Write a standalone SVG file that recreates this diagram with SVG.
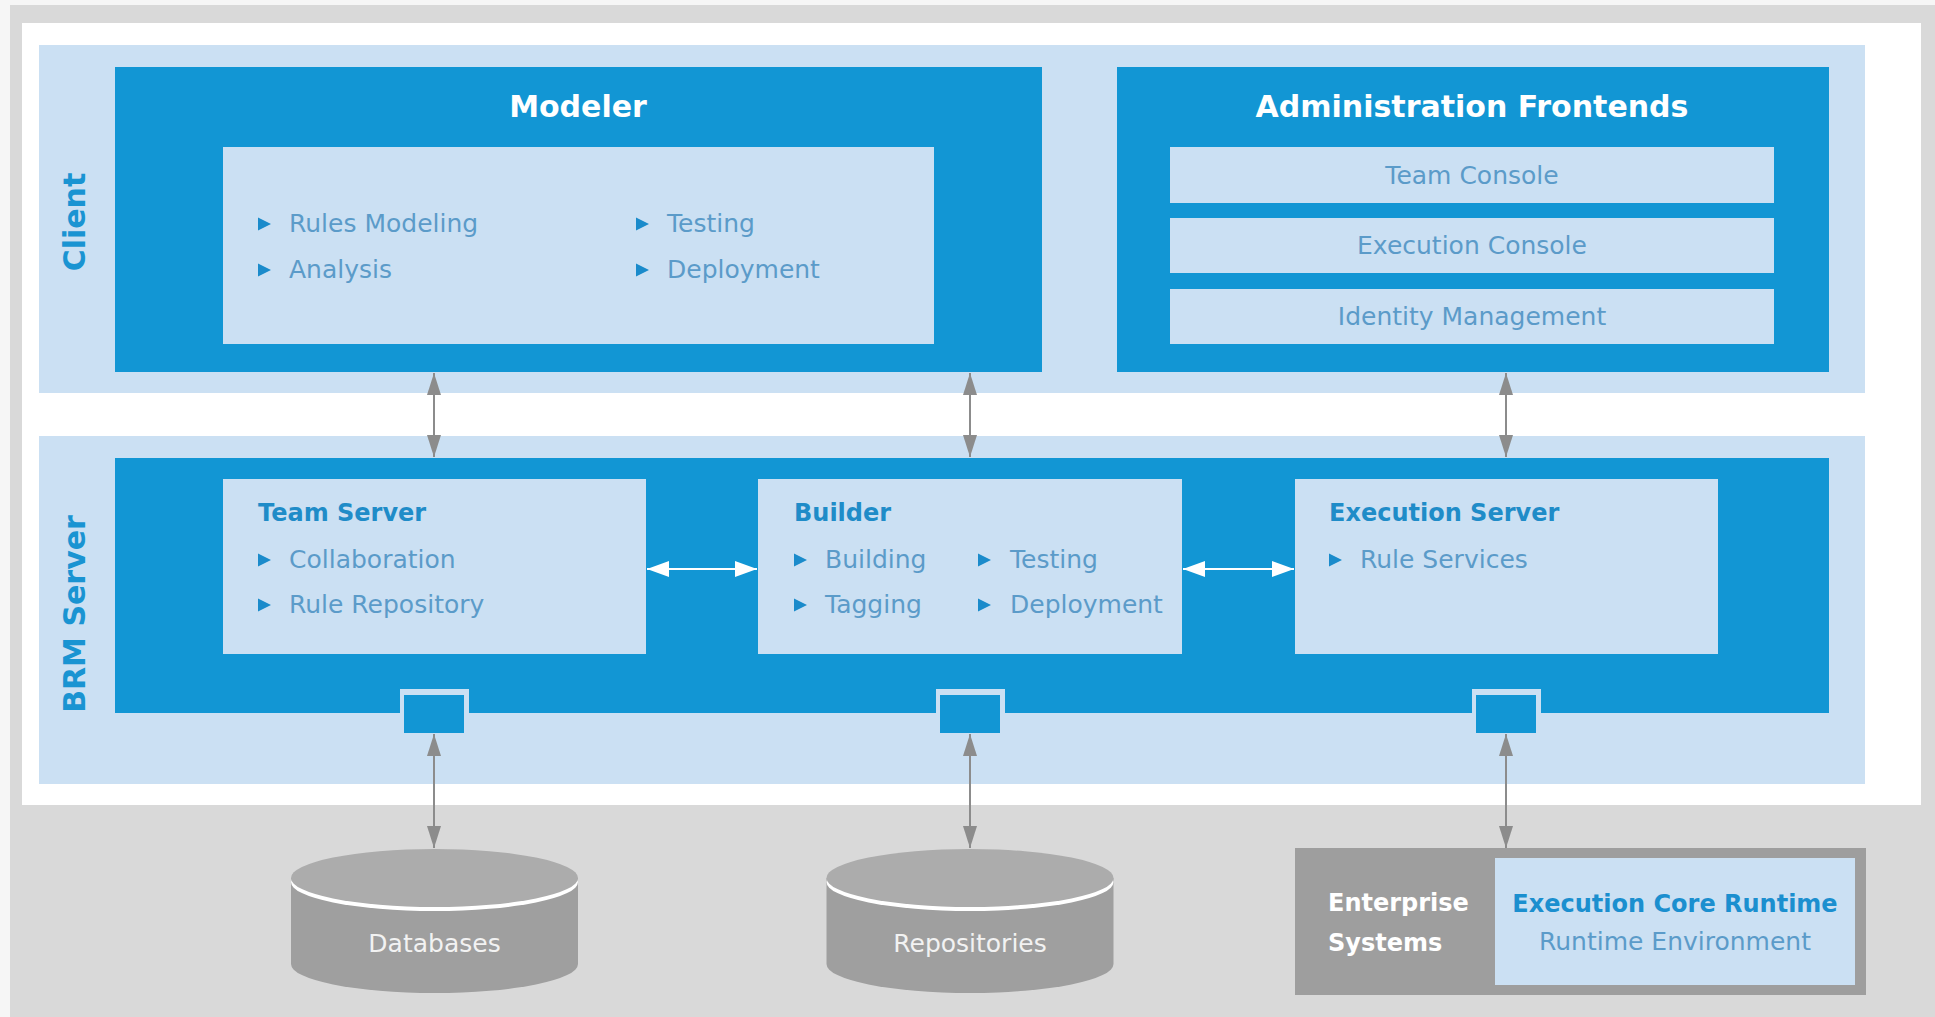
<svg xmlns="http://www.w3.org/2000/svg" width="1935" height="1017" viewBox="0 0 1935 1017">
<defs>
<style>
.dark{fill:#1296d4}
.light{fill:#cbe0f3}
.title{font-family:"DejaVu Sans",sans-serif;font-weight:bold;font-size:30px;fill:#ffffff}
.vlabel{font-family:"DejaVu Sans",sans-serif;font-weight:bold;font-size:30px;fill:#1a94d2}
.head{font-family:"DejaVu Sans",sans-serif;font-weight:bold;font-size:24px;fill:#1f8cc8}
.item{font-family:"DejaVu Sans",sans-serif;font-size:25px;fill:#5b9bc9}
.bul{fill:#1a8bcb}
.wtxt{font-family:"DejaVu Sans",sans-serif;font-size:25px;fill:#f2f2f2}
.wbold{font-family:"DejaVu Sans",sans-serif;font-weight:bold;font-size:24px;fill:#ffffff}
.garrow{stroke:#8c8c8c;stroke-width:2;fill:none;marker-start:url(#ga);marker-end:url(#ga)}
.warrow{stroke:#ffffff;stroke-width:2;fill:none;marker-start:url(#wa);marker-end:url(#wa)}
.cylbody{fill:#9f9f9f}
.cyltop{fill:#acacac}
</style>
<marker id="ga" markerUnits="userSpaceOnUse" markerWidth="22" markerHeight="14" refX="22" refY="7" orient="auto-start-reverse">
<path d="M0,0 L22,7 L0,14 Z" fill="#8c8c8c"/>
</marker>
<marker id="wa" markerUnits="userSpaceOnUse" markerWidth="22" markerHeight="16" refX="22" refY="8" orient="auto-start-reverse">
<path d="M0,0 L22,8 L0,16 Z" fill="#ffffff"/>
</marker>
</defs>

<rect x="0" y="0" width="1935" height="1017" fill="#f6f6f6"/>
<rect x="10" y="5" width="1925" height="1012" fill="#d9d9d9"/>
<rect x="22" y="23" width="1899" height="782" fill="#ffffff"/>

<g id="client-layer">
<rect class="light" x="39" y="45" width="1826" height="348"/>
<text class="vlabel" text-anchor="middle" transform="translate(85,222) rotate(-90)">Client</text>
</g>

<g id="modeler">
<rect class="dark" x="115" y="67" width="927" height="305"/>
<text class="title" x="578" y="117" text-anchor="middle">Modeler</text>
<rect class="light" x="223" y="147" width="711" height="197"/>
<path class="bul" d="M258,217.5 L271,224 L258,230.5 Z"/>
<text class="item" x="289" y="232">Rules Modeling</text>
<path class="bul" d="M258,263.5 L271,270 L258,276.5 Z"/>
<text class="item" x="289" y="278">Analysis</text>
<path class="bul" d="M636,217.5 L649,224 L636,230.5 Z"/>
<text class="item" x="667" y="232">Testing</text>
<path class="bul" d="M636,263.5 L649,270 L636,276.5 Z"/>
<text class="item" x="667" y="278">Deployment</text>
</g>

<g id="admin-frontends">
<rect class="dark" x="1117" y="67" width="712" height="305"/>
<text class="title" x="1472" y="117" text-anchor="middle">Administration Frontends</text>
<rect class="light" x="1170" y="147" width="604" height="56"/>
<text class="item" x="1472" y="184" text-anchor="middle">Team Console</text>
<rect class="light" x="1170" y="218" width="604" height="55"/>
<text class="item" x="1472" y="254" text-anchor="middle">Execution Console</text>
<rect class="light" x="1170" y="289" width="604" height="55"/>
<text class="item" x="1472" y="325" text-anchor="middle">Identity Management</text>
</g>

<g id="brm-layer">
<rect class="light" x="39" y="436" width="1826" height="348"/>
<text class="vlabel" text-anchor="middle" transform="translate(85,614) rotate(-90)">BRM Server</text>
<rect class="dark" x="115" y="458" width="1714" height="255"/>
</g>

<g id="team-server">
<rect class="light" x="223" y="479" width="423" height="175"/>
<text class="head" x="258" y="521">Team Server</text>
<path class="bul" d="M258,553.5 L271,560 L258,566.5 Z"/>
<text class="item" x="289" y="568">Collaboration</text>
<path class="bul" d="M258,598.5 L271,605 L258,611.5 Z"/>
<text class="item" x="289" y="613">Rule Repository</text>
</g>

<g id="builder">
<rect class="light" x="758" y="479" width="424" height="175"/>
<text class="head" x="794" y="521">Builder</text>
<path class="bul" d="M794,553.5 L807,560 L794,566.5 Z"/>
<text class="item" x="825" y="568">Building</text>
<path class="bul" d="M794,598.5 L807,605 L794,611.5 Z"/>
<text class="item" x="825" y="613">Tagging</text>
<path class="bul" d="M978,553.5 L991,560 L978,566.5 Z"/>
<text class="item" x="1010" y="568">Testing</text>
<path class="bul" d="M978,598.5 L991,605 L978,611.5 Z"/>
<text class="item" x="1010" y="613">Deployment</text>
</g>

<g id="execution-server">
<rect class="light" x="1295" y="479" width="423" height="175"/>
<text class="head" x="1329" y="521">Execution Server</text>
<path class="bul" d="M1329,553.5 L1342,560 L1329,566.5 Z"/>
<text class="item" x="1360" y="568">Rule Services</text>
</g>

<g id="port-team">
<rect class="light" x="400" y="689" width="69" height="45"/>
<rect class="dark" x="404" y="695" width="60" height="38"/>
</g>
<g id="port-builder">
<rect class="light" x="936" y="689" width="69" height="45"/>
<rect class="dark" x="940" y="695" width="60" height="38"/>
</g>
<g id="port-execution">
<rect class="light" x="1472" y="689" width="69" height="45"/>
<rect class="dark" x="1476" y="695" width="60" height="38"/>
</g>

<g id="databases">
<path class="cylbody" d="M291,878 L291,964 A143.5,29 0 0 0 578,964 L578,878 Z"/>
<ellipse cx="434.5" cy="882" rx="143.5" ry="29" fill="#ffffff"/>
<ellipse class="cyltop" cx="434.5" cy="878" rx="143.5" ry="29"/>
<text class="wtxt" x="434.5" y="952" text-anchor="middle">Databases</text>
</g>

<g id="repositories">
<path class="cylbody" d="M826.5,878 L826.5,964 A143.5,29 0 0 0 1113.5,964 L1113.5,878 Z"/>
<ellipse cx="970" cy="882" rx="143.5" ry="29" fill="#ffffff"/>
<ellipse class="cyltop" cx="970" cy="878" rx="143.5" ry="29"/>
<text class="wtxt" x="970" y="952" text-anchor="middle">Repositories</text>
</g>

<g id="enterprise-systems">
<rect x="1295" y="848" width="571" height="147" fill="#9e9e9e"/>
<text class="wbold" x="1328" y="911">Enterprise</text>
<text class="wbold" x="1328" y="951">Systems</text>
<rect class="light" x="1495" y="858" width="360" height="127"/>
<text class="head" x="1675" y="912" text-anchor="middle" style="fill:#1b8fcf">Execution Core Runtime</text>
<text class="item" x="1675" y="950" text-anchor="middle">Runtime Environment</text>
</g>

<g id="connectors">
<line class="garrow" x1="434" y1="373" x2="434" y2="457"/>
<line class="garrow" x1="970" y1="373" x2="970" y2="457"/>
<line class="garrow" x1="1506" y1="373" x2="1506" y2="457"/>
<line class="warrow" x1="647" y1="569" x2="757" y2="569"/>
<line class="warrow" x1="1183" y1="569" x2="1294" y2="569"/>
<line class="garrow" x1="434" y1="734" x2="434" y2="848"/>
<line class="garrow" x1="970" y1="734" x2="970" y2="848"/>
<line class="garrow" x1="1506" y1="734" x2="1506" y2="848"/>
</g>
</svg>
